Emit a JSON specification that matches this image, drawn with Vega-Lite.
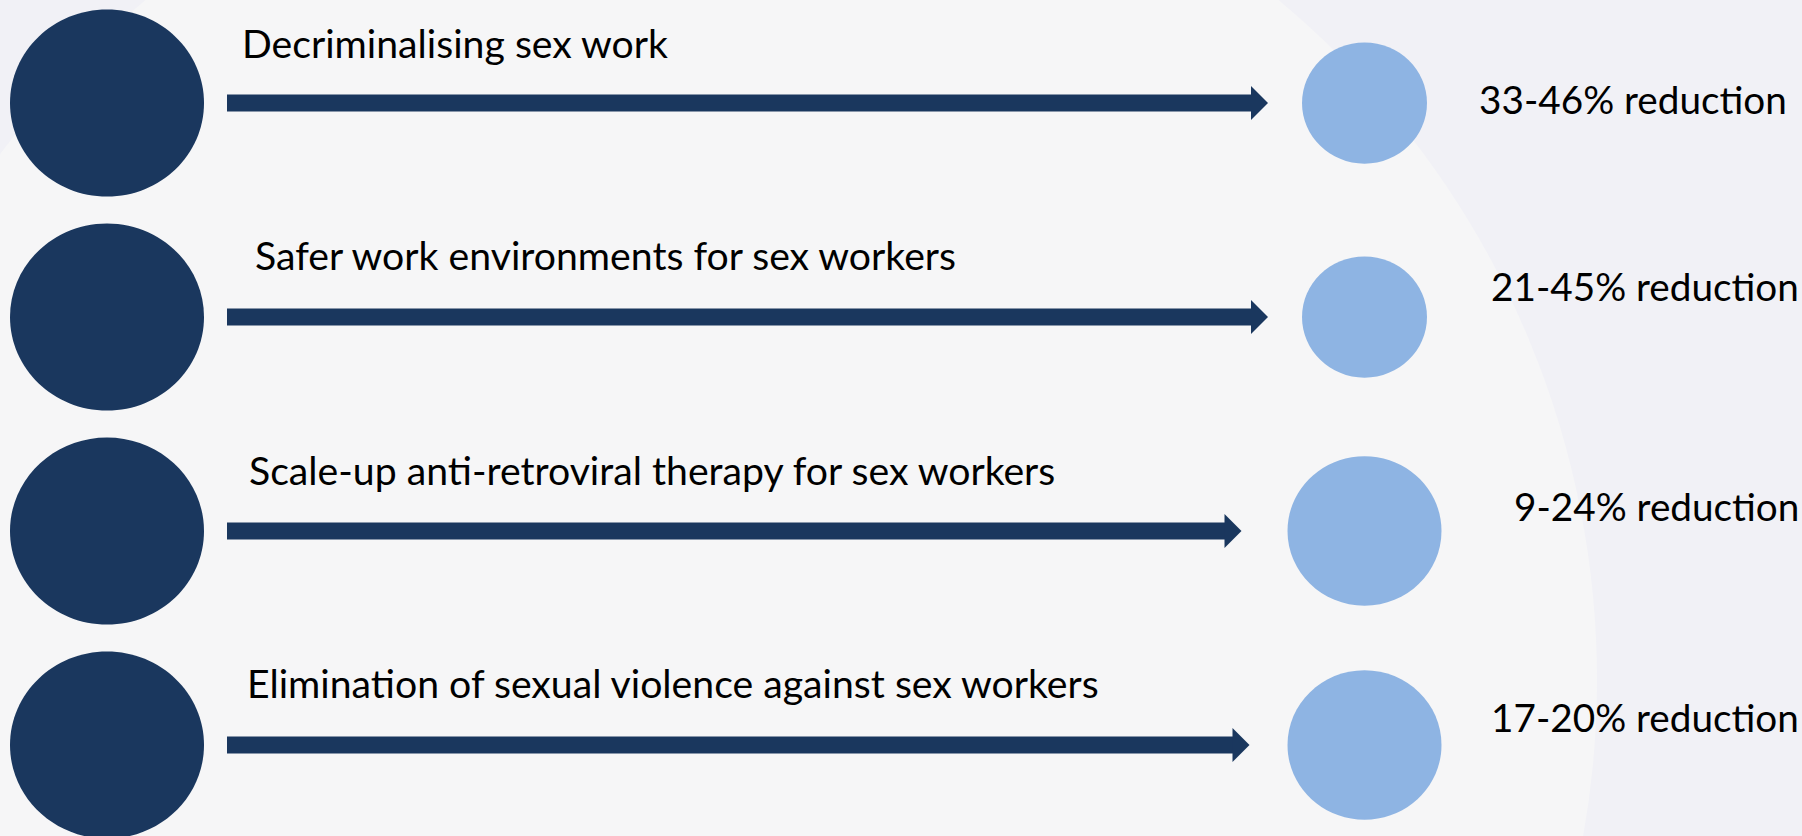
{
  "$schema": "https://vega.github.io/schema/vega-lite/v6.json",
  "width": 1802,
  "height": 836,
  "autosize": {"type": "none"},
  "padding": 0,
  "background": "#f1f1f6",
  "config": {"view": {"stroke": null}, "text": {"font": "Lato", "fontSize": 39.2, "color": "#000000", "align": "left", "baseline": "alphabetic"}},
  "data": {
    "values": [
      {"rank": 1, "intervention": "Decriminalising sex work", "reduction": "33-46% reduction", "low": 33, "high": 46},
      {"rank": 2, "intervention": "Safer work environments for sex workers", "reduction": "21-45% reduction", "low": 21, "high": 45},
      {"rank": 3, "intervention": "Scale-up anti-retroviral therapy for sex workers", "reduction": "9-24% reduction", "low": 9, "high": 24},
      {"rank": 4, "intervention": "Elimination of sexual violence against sex workers", "reduction": "17-20% reduction", "low": 17, "high": 20}
    ]
  },
  "encoding": {
    "y": {"field": "rank", "type": "quantitative", "scale": {"domain": [1, 4], "range": [103, 745], "nice": false, "zero": false}, "axis": null}
  },
  "layer": [
    {
      "transform": [{"filter": "datum.rank == 1"}],
      "mark": {"type": "point", "filled": true, "opacity": 1, "color": "#f6f6f7", "size": 3132900, "shape": "circle", "strokeWidth": 0},
      "encoding": {
        "x": {"datum": 712, "type": "quantitative", "scale": {"domain": [0, 1802], "nice": false, "zero": false}, "axis": null},
        "y": {"datum": 3.696, "type": "quantitative", "axis": null}
      }
    },
    {
      "mark": {"type": "point", "filled": true, "opacity": 1, "color": "#1a375e", "size": 37636, "shape": "M-1,0A1,0.965 0 1,1 1,0A1,0.965 0 1,1 -1,0Z", "strokeWidth": 0},
      "encoding": {"x": {"datum": 107, "type": "quantitative"}}
    },
    {
      "mark": {"type": "point", "filled": true, "opacity": 1, "color": "#8eb4e3", "shape": "M-1,0A1,0.97 0 1,1 1,0A1,0.97 0 1,1 -1,0Z", "strokeWidth": 0},
      "encoding": {
        "x": {"datum": 1364.5, "type": "quantitative"},
        "size": {"condition": {"test": "datum.rank > 2", "value": 23716}, "value": 15625}
      }
    },
    {
      "transform": [{"filter": "datum.rank <= 2"}],
      "layer": [
        {"mark": {"type": "rule", "color": "#1a375e", "strokeWidth": 17, "strokeCap": "butt"}, "encoding": {"x": {"datum": 227, "type": "quantitative"}, "x2": {"datum": 1252}}},
        {"mark": {"type": "point", "filled": true, "opacity": 1, "color": "#1a375e", "size": 1156, "shape": "M-0.5,-1L0.5,0L-0.5,1Z", "strokeWidth": 0}, "encoding": {"x": {"datum": 1259.5, "type": "quantitative"}}}
      ]
    },
    {
      "transform": [{"filter": "datum.rank == 3"}],
      "layer": [
        {"mark": {"type": "rule", "color": "#1a375e", "strokeWidth": 17, "strokeCap": "butt"}, "encoding": {"x": {"datum": 227, "type": "quantitative"}, "x2": {"datum": 1225}}},
        {"mark": {"type": "point", "filled": true, "opacity": 1, "color": "#1a375e", "size": 1156, "shape": "M-0.5,-1L0.5,0L-0.5,1Z", "strokeWidth": 0}, "encoding": {"x": {"datum": 1233, "type": "quantitative"}}}
      ]
    },
    {
      "transform": [{"filter": "datum.rank == 4"}],
      "layer": [
        {"mark": {"type": "rule", "color": "#1a375e", "strokeWidth": 17, "strokeCap": "butt"}, "encoding": {"x": {"datum": 227, "type": "quantitative"}, "x2": {"datum": 1234}}},
        {"mark": {"type": "point", "filled": true, "opacity": 1, "color": "#1a375e", "size": 1156, "shape": "M-0.5,-1L0.5,0L-0.5,1Z", "strokeWidth": 0}, "encoding": {"x": {"datum": 1241, "type": "quantitative"}}}
      ]
    },
    {
      "transform": [{"filter": "datum.rank == 1"}],
      "layer": [
        {"mark": {"type": "text", "dy": -45}, "encoding": {"x": {"datum": 242, "type": "quantitative"}, "text": {"field": "intervention"}}},
        {"mark": {"type": "text", "dy": 11, "fontSize": 38.7}, "encoding": {"x": {"datum": 1479, "type": "quantitative"}, "text": {"field": "reduction"}}}
      ]
    },
    {
      "transform": [{"filter": "datum.rank == 2"}],
      "layer": [
        {"mark": {"type": "text", "dy": -47}, "encoding": {"x": {"datum": 255, "type": "quantitative"}, "text": {"field": "intervention"}}},
        {"mark": {"type": "text", "dy": -16, "fontSize": 38.7}, "encoding": {"x": {"datum": 1491, "type": "quantitative"}, "text": {"field": "reduction"}}}
      ]
    },
    {
      "transform": [{"filter": "datum.rank == 3"}],
      "layer": [
        {"mark": {"type": "text", "dy": -46}, "encoding": {"x": {"datum": 249, "type": "quantitative"}, "text": {"field": "intervention"}}},
        {"mark": {"type": "text", "dy": -10, "fontSize": 38.7}, "encoding": {"x": {"datum": 1514, "type": "quantitative"}, "text": {"field": "reduction"}}}
      ]
    },
    {
      "transform": [{"filter": "datum.rank == 4"}],
      "layer": [
        {"mark": {"type": "text", "dy": -47}, "encoding": {"x": {"datum": 247, "type": "quantitative"}, "text": {"field": "intervention"}}},
        {"mark": {"type": "text", "dy": -13, "fontSize": 38.7}, "encoding": {"x": {"datum": 1491, "type": "quantitative"}, "text": {"field": "reduction"}}}
      ]
    }
  ]
}
